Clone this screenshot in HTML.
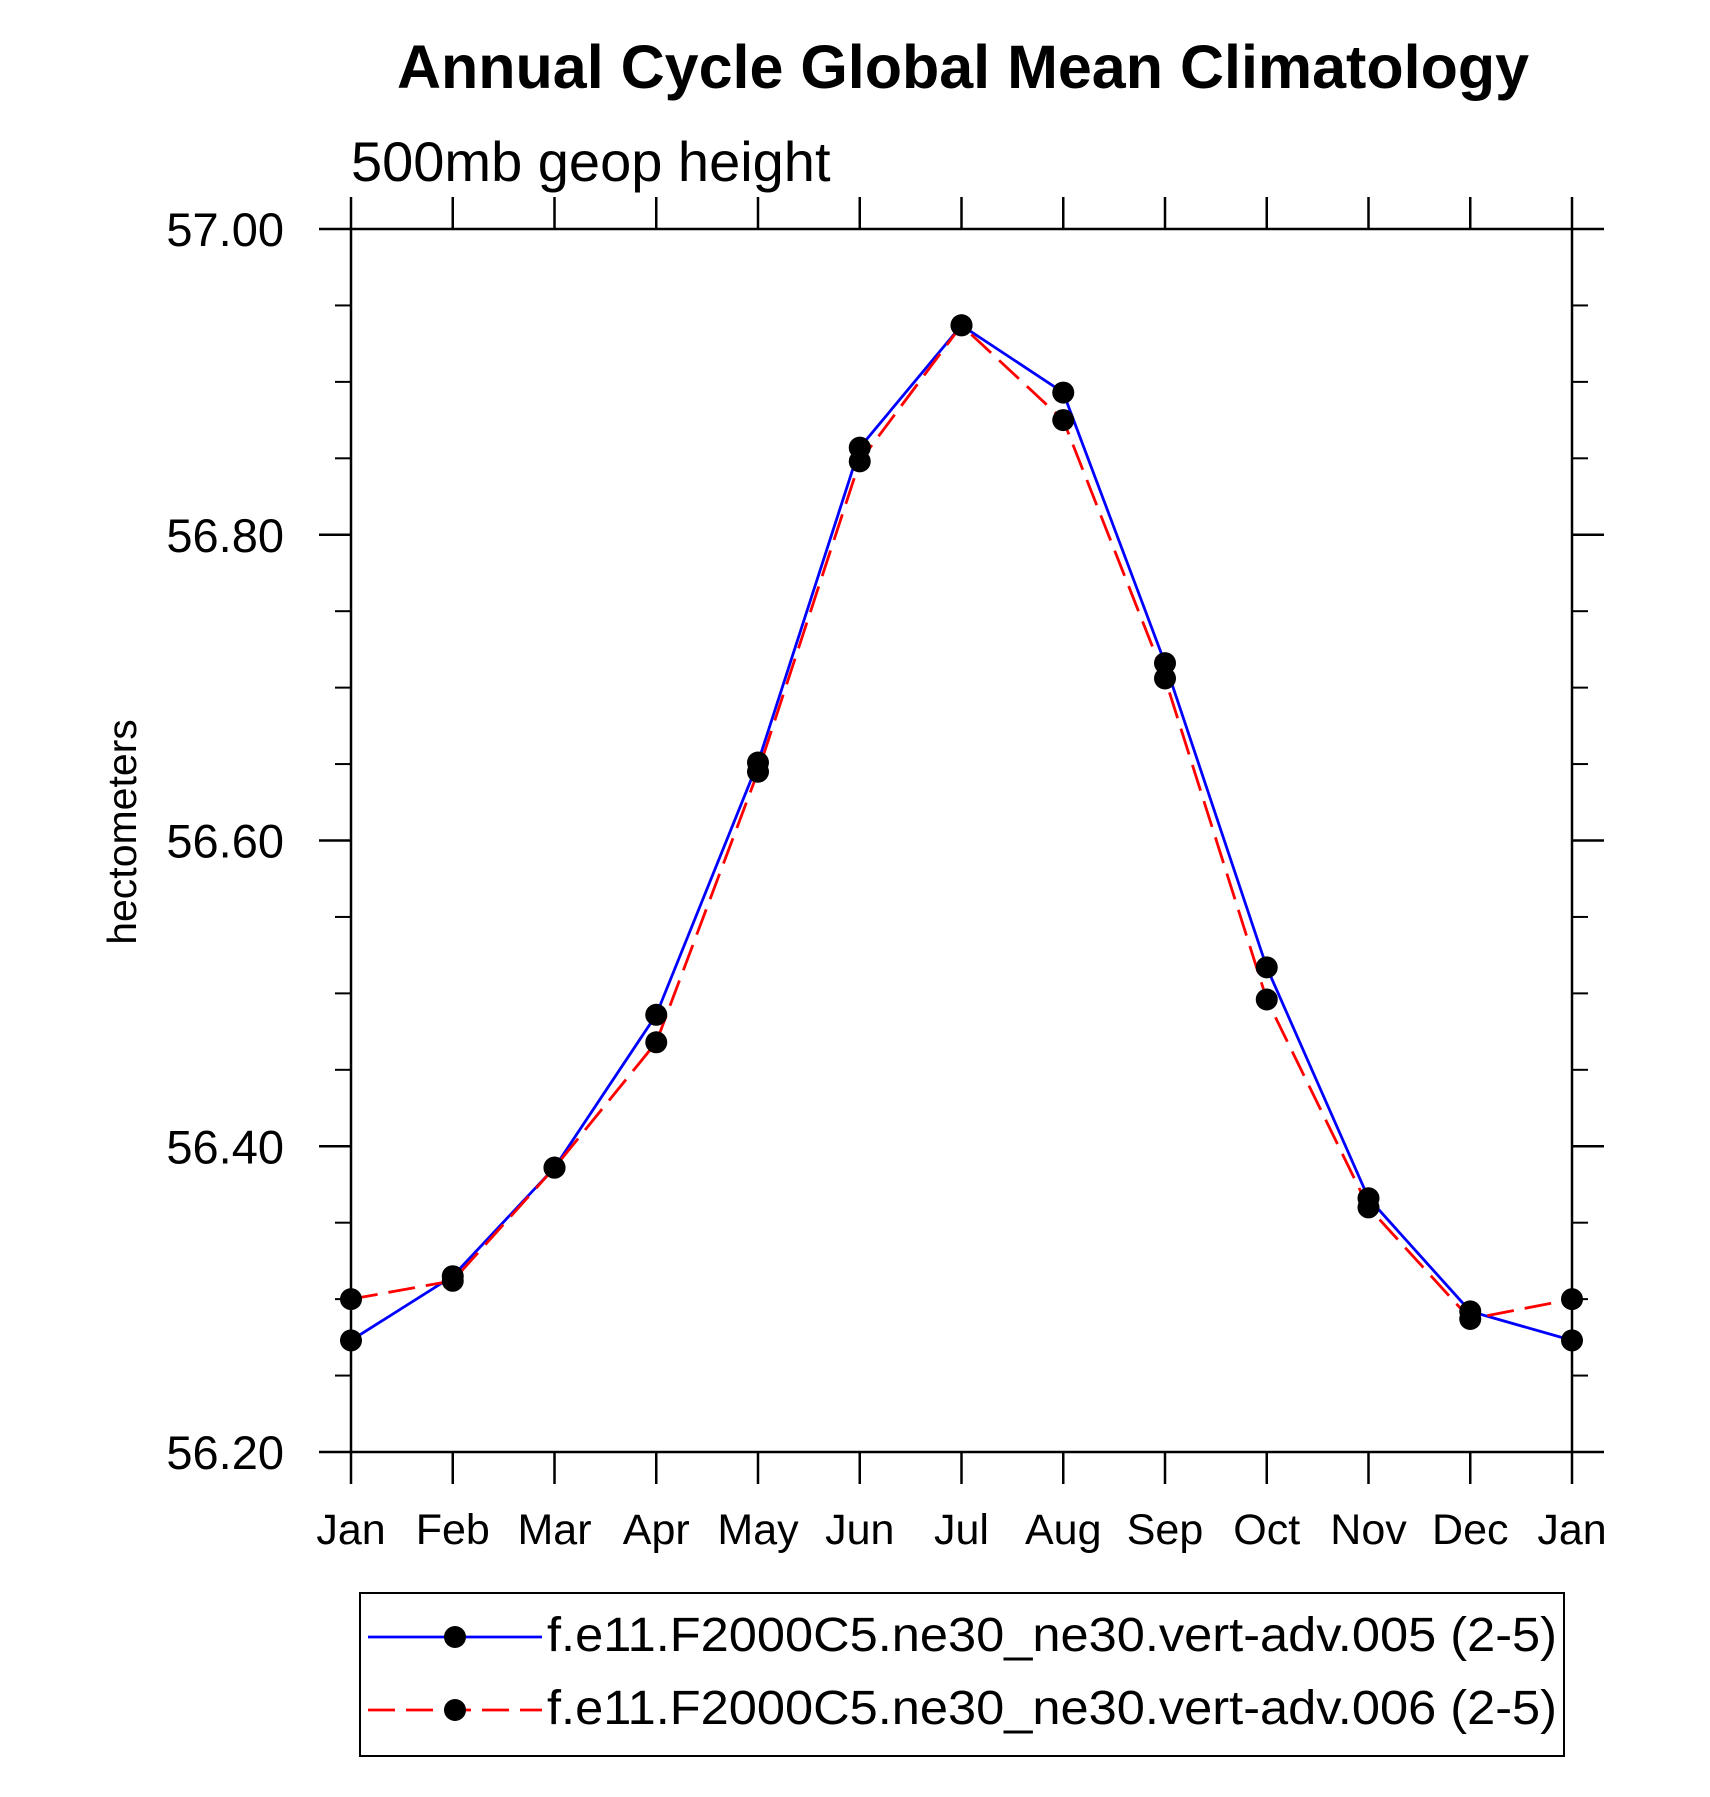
<!DOCTYPE html>
<html><head><meta charset="utf-8"><style>
html,body{margin:0;padding:0;background:#fff;}
svg{display:block;font-family:"Liberation Sans",Arial,sans-serif;}
</style></head><body>
<svg id="chart" width="1710" height="1797" viewBox="0 0 1710 1797" xmlns="http://www.w3.org/2000/svg">
<text x="963" y="88" font-size="61" font-weight="bold" text-anchor="middle">Annual Cycle Global Mean Climatology</text>
<text x="351" y="181" font-size="56">500mb geop height</text>
<text transform="translate(136,832) rotate(-90)" font-size="41" text-anchor="middle">hectometers</text>
<g id="axes"></g>
<g id="series"></g>
<g>
<rect x="360" y="1593" width="1204" height="163" fill="none" stroke="#000" stroke-width="2"/>
<g>
<line x1="368" y1="1637" x2="542" y2="1637" stroke="#0000ff" stroke-width="2.8"/>
<circle cx="455" cy="1637" r="11" fill="#000"/>
<text x="547" y="1651" font-size="48" textLength="1010" lengthAdjust="spacingAndGlyphs">f.e11.F2000C5.ne30_ne30.vert-adv.005 (2-5)</text>
</g>
<g>
<line x1="368" y1="1710" x2="542" y2="1710" stroke="#ff0000" stroke-width="2.8" stroke-dasharray="27,11"/>
<circle cx="455" cy="1710" r="11" fill="#000"/>
<text x="547" y="1724" font-size="48" textLength="1010" lengthAdjust="spacingAndGlyphs">f.e11.F2000C5.ne30_ne30.vert-adv.006 (2-5)</text>
</g>
</g>
</svg>
<script>
const months = ["Jan","Feb","Mar","Apr","May","Jun","Jul","Aug","Sep","Oct","Nov","Dec","Jan"];
const series005 = [56.273,56.315,56.386,56.486,56.651,56.857,56.937,56.893,56.716,56.517,56.366,56.292,56.273];
const series006 = [56.300,56.312,56.386,56.468,56.645,56.848,56.937,56.875,56.706,56.496,56.360,56.287,56.300];
const yTicks = [56.2,56.4,56.6,56.8,57.0];
const yTickLabels = ["56.20","56.40","56.60","56.80","57.00"];
const yMinorTicks = [56.25,56.3,56.35,56.45,56.5,56.55,56.65,56.7,56.75,56.85,56.9,56.95];

const NS="http://www.w3.org/2000/svg";
const L=351,R=1572,T=229,B=1452,yMin=56.2,yMax=57.0;
const xs=i=>L+(R-L)*i/(months.length-1);
const ys=v=>B-(v-yMin)/(yMax-yMin)*(B-T);
function mk(tag,attrs,parent){const e=document.createElementNS(NS,tag);for(const k in attrs)e.setAttribute(k,attrs[k]);parent.appendChild(e);return e;}
const axes=document.getElementById('axes');
const frame=mk('rect',{x:L,y:T,width:R-L,height:B-T,fill:'none',stroke:'#000','stroke-width':2.5},axes);


yTicks.forEach((v,i)=>{
  const y=ys(v);
  const t1=mk('line',{x1:L-32,y1:y,x2:L,y2:y,stroke:'#000','stroke-width':2.5},axes);
  
  
  const t2=mk('line',{x1:R,y1:y,x2:R+32,y2:y,stroke:'#000','stroke-width':2.5},axes);
  
  
  const lb=mk('text',{x:284,y:y+17,'font-size':47,'text-anchor':'end'},axes);
  lb.textContent=yTickLabels[i];
  
  
});
yMinorTicks.forEach(v=>{
  const y=ys(v);
  const a=mk('line',{x1:L-16,y1:y,x2:L,y2:y,stroke:'#000','stroke-width':2},axes);
  
  
  const b=mk('line',{x1:R,y1:y,x2:R+16,y2:y,stroke:'#000','stroke-width':2},axes);
  
  
});
months.forEach((m,i)=>{
  const x=xs(i);
  const a=mk('line',{x1:x,y1:B,x2:x,y2:B+32,stroke:'#000','stroke-width':2.5},axes);
  
  
  const b=mk('line',{x1:x,y1:T-32,x2:x,y2:T,stroke:'#000','stroke-width':2.5},axes);
  
  
  const lb=mk('text',{x:x,y:1544,'font-size':43,'text-anchor':'middle'},axes);
  lb.textContent=m;
  
  
});
const sg=document.getElementById('series');
function drawSeries(vals,color,dash,name){
  const pts=vals.map((v,i)=>xs(i)+','+ys(v)).join(' ');
  const pl=mk('polyline',{points:pts,fill:'none',stroke:color,'stroke-width':2.8},sg);
  if(dash)pl.setAttribute('stroke-dasharray',dash);
  
  
}
function drawDots(vals,name){
  vals.forEach((v,i)=>{
    const c=mk('circle',{cx:xs(i),cy:ys(v),r:11,fill:'#000'},sg);
    
    
  });
}
drawSeries(series005,'#0000ff',null,'series-005');
drawSeries(series006,'#ff0000','27,11','series-006');
drawDots(series005,'series-005');
drawDots(series006,'series-006');
</script>
</body></html>
